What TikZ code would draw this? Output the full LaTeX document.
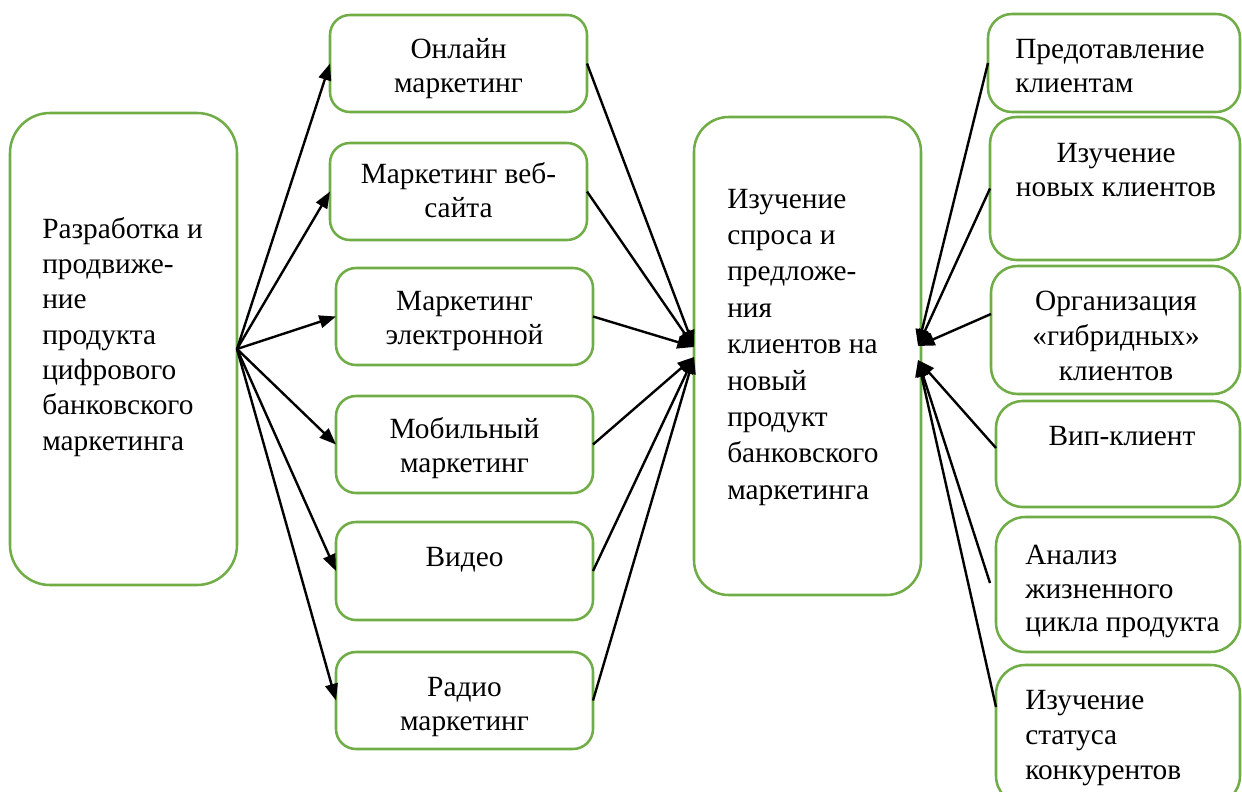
\documentclass[tikz,border=0pt]{standalone}
\usepackage{fontspec}
\setmainfont{Liberation Serif}
\usetikzlibrary{arrows.meta}
\definecolor{boxgreen}{RGB}{112,173,71}
\newcommand\mybox[6]{\node[box,rounded corners=#6,minimum width={(#4-#2)*0.75pt},minimum height={(#5-#3)*0.75pt}] (#1) at ({(#2+#4)/2},{(#3+#5)/2}) {};}
\tikzset{
  box/.style={draw=boxgreen,line width=1.9pt,fill=none,inner sep=0pt,outer sep=0pt},
  txt/.style={inner sep=0pt,font=\fontsize{22}{26}\selectfont},
  ctxt/.style={txt,align=center,anchor=base},
  ltxt/.style={txt,align=left,anchor=base west},
  arr/.style={line width=1.8pt,-{Triangle[length=12.5pt,width=9.5pt]}}
}
\begin{document}
\begin{tikzpicture}[x=0.75pt,y=-0.75pt]
\useasboundingbox (0,0) rectangle (1242,792);
% boxes
\mybox{L}{10}{113}{237}{585}{30pt}
\mybox{m1}{330}{15}{587}{112}{15pt}
\mybox{m2}{330}{143}{587}{240}{15pt}
\mybox{m3}{336}{268}{593}{365}{15pt}
\mybox{m4}{336}{396}{593}{493}{15pt}
\mybox{m5}{336}{522}{593}{620}{15pt}
\mybox{m6}{336}{652}{593}{749}{15pt}
\mybox{C}{694}{117}{921}{595}{26pt}
\mybox{r1}{988}{14}{1240}{112}{18pt}
\mybox{r2}{990}{117}{1240}{260}{20pt}
\mybox{r3}{991}{266}{1240}{394}{20pt}
\mybox{r4}{996}{401}{1240}{507}{20pt}
\mybox{r5}{996}{517}{1240}{652}{22pt}
\mybox{r6}{996}{665}{1240}{805}{22pt}
% texts (positions are the baselines of the last lines)
\node[ltxt,font=\fontsize{22}{26.5}\selectfont] (Lt) at (42,450) {Разработка и\\продвиже-\\ние\\продукта\\цифрового\\банковского\\маркетинга};
\node[ctxt] (m1t) at (458.5,92.7) {Онлайн\\маркетинг};
\node[ctxt] (m2t) at (458.5,217.7) {Маркетинг веб-\\сайта};
\node[ctxt] (m3t) at (464.5,344.7) {Маркетинг\\электронной};
\node[ctxt] (m4t) at (464.5,472.7) {Мобильный\\маркетинг};
\node[ctxt] (m5t) at (464.5,566) {Видео};
\node[ctxt] (m6t) at (464.5,730.7) {Радио\\маркетинг};
\node[ltxt,font=\fontsize{22}{27.3}\selectfont] (Ct) at (727,499.2) {Изучение\\спроса и\\предложе-\\ния\\клиентов на\\новый\\продукт\\банковского\\маркетинга};
\node[ltxt] (r1t) at (1015,92.7) {Предотавление\\клиентам};
\node[ctxt] (r2t) at (1116,196.7) {Изучение\\новых клиентов};
\node[ctxt] (r3t) at (1116,380.3) {Организация\\«гибридных»\\клиентов};
\node[ctxt] (r4t) at (1122,445) {Вип-клиент};
\node[ltxt,font=\fontsize{22}{24.8}\selectfont] (r5t) at (1025,631.1) {Анализ\\жизненного\\цикла продукта};
\node[ltxt] (r6t) at (1025,779.3) {Изучение\\статуса\\конкурентов};
% connection points
\coordinate (cT) at (694,347);
\coordinate (cB) at (694,357);
\coordinate (rT) at (918,346);
\coordinate (rB) at (918,360);
\coordinate (r5e) at (990,583);
% arrows left -> middle
\foreach \m in {m1,m2,m3,m4,m5,m6} \draw[arr] (L.east) -- (\m.west);
% middle -> center
\foreach \m in {m1,m2,m3} \draw[arr] (\m.east) -- (cT);
\foreach \m in {m4,m5,m6} \draw[arr] (\m.east) -- (cB);
% right -> center
\draw[arr] (r1.west) -- (rT);
\draw[arr] (r2.west) -- (rT);
\draw[arr] (r3.west |- 0,314) -- (rT);
\draw[arr] (r4.west |- 0,448) -- (rB);
\draw[arr] (r5e) -- (rB);
\draw[arr] (r6.west |- 0,707) -- (rB);
\end{tikzpicture}
\end{document}
